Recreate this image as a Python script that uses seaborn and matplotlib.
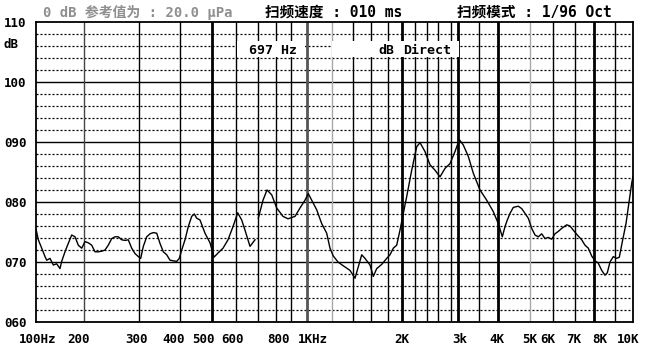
import numpy as np
import pandas as pd
import matplotlib
matplotlib.use("Agg")
import matplotlib.pyplot as plt
import seaborn as sns
from matplotlib.patches import Rectangle
from matplotlib.transforms import ScaledTranslation

# ---------------- data ----------------
# axis of the analyser: frequency anchors and their relative position on the scale
AXIS_FREQS = [100, 200, 300, 400, 500, 600, 700, 800, 900, 1000,
              2000, 3000, 4000, 5000, 6000, 7000, 8000, 10000]
AXIS_POS = [0, 48, 103, 144, 176, 200, 222, 240, 255, 271,
            366, 422, 462, 494, 517, 539, 558, 597]

# response curve, part before the cursor (697 Hz)
seg1_hz = [100, 103.4, 108.6, 113.9, 116.7, 122.4, 128.4, 134.8, 141.4, 144.9,
           152.0, 159.4, 167.5, 175.6, 184.2, 193.5, 201.5, 206.4, 211.7, 216.9,
           222.2, 227.9, 233.5, 239.2, 245.3, 251.3, 257.5, 264.1, 270.6, 277.2,
           284.3, 291.3, 298.5, 303.6, 309.2, 316.7, 324.1, 331.7, 339.7, 347.6,
           355.8, 364.4, 372.9, 381.6, 390.8, 398.0, 404.8, 414.2, 423.8, 434.0,
           442.0, 449.4, 459.9, 476.2, 493.1, 507.7, 523.3, 543.6, 564.6, 586.5,
           607.2, 624.5, 639.1, 661.9, 685.4]
seg1_db = [75.5, 73.7, 72.3, 70.9, 70.3, 70.6, 69.5, 69.7, 68.9, 70.1,
           71.7, 73.1, 74.5, 74.2, 72.8, 72.3, 73.4, 73.2, 72.8, 71.7,
           71.7, 71.8, 72.0, 72.8, 73.9, 74.2, 74.2, 73.7, 73.6, 73.7,
           72.3, 71.4, 70.9, 70.6, 72.6, 74.2, 74.7, 74.9, 74.8, 73.1,
           71.7, 71.2, 70.3, 70.2, 70.1, 70.6, 72.0, 73.7, 75.9, 77.6,
           78.0, 77.3, 77.0, 74.8, 73.2, 70.8, 71.5, 72.3, 73.7, 75.9,
           78.2, 77.0, 75.3, 72.6, 73.7]

# response curve, part after the cursor
seg2_hz = [701.6, 726.5, 748.4, 774.9, 804.4, 845.2, 879.0, 924.0, 955.0, 986.9,
           1009.5, 1034.9, 1073.3, 1113.2, 1154.5, 1182.7, 1211.5, 1253.8, 1300.4, 1368.5,
           1419.4, 1454.0, 1490.5, 1526.8, 1583.6, 1622.1, 1662.9, 1724.6, 1788.6, 1832.2,
           1876.8, 1924.0, 1971.0, 2010.2, 2069.2, 2145.5, 2224.6, 2278.4, 2362.4, 2449.5,
           2539.8, 2633.4, 2730.6, 2831.2, 2935.4, 3028.2, 3116.6, 3230.7, 3348.9, 3514.3,
           3687.9, 3867.0, 4008.4, 4121.8, 4200.1, 4268.0, 4349.2, 4450.4, 4608.3, 4718.8,
           4828.7, 4941.1, 5067.8, 5202.1, 5340.1, 5485.9, 5631.4, 5780.6, 5938.4, 6084.7,
           6227.0, 6377.2, 6604.4, 6758.9, 6917.3, 7114.1, 7337.6, 7509.6, 7686.0, 7871.6,
           8045.9, 8199.2, 8360.4, 8519.7, 8632.7, 8767.0, 8934.1, 9109.6, 9246.2, 9427.7,
           9607.3, 9790.4, 9925.6, 10000]
seg2_db = [77.3, 80.3, 82.0, 81.2, 79.0, 77.6, 77.2, 77.6, 79.0, 80.3,
           81.4, 80.3, 78.7, 76.4, 74.8, 72.3, 71.0, 70.0, 69.4, 68.6,
           67.3, 69.2, 71.2, 70.6, 69.5, 67.6, 68.9, 69.6, 70.6, 71.2,
           72.3, 72.8, 75.3, 77.6, 80.9, 85.3, 89.2, 89.9, 88.4, 86.2,
           85.3, 84.2, 85.6, 86.4, 88.4, 90.4, 89.5, 87.6, 84.8, 82.0,
           80.3, 78.4, 76.4, 74.2, 75.9, 77.0, 78.1, 79.1, 79.3, 78.9,
           78.1, 77.3, 75.6, 74.5, 74.2, 74.7, 73.9, 74.1, 73.8, 74.7,
           75.1, 75.6, 76.2, 76.0, 75.3, 74.5, 73.7, 72.8, 72.3, 71.0,
           70.2, 69.8, 68.6, 67.8, 68.2, 70.0, 70.9, 70.6, 70.8, 73.7,
           76.4, 80.3, 83.1, 84.3]

# grid lines
grid_thin = [300, 400, 600, 700, 800, 900, 1400, 1600, 1800, 2200, 2400, 2600,
             2850, 3500, 6000, 7000, 9000]
grid_thick = [500, 2000, 3000, 4000, 8000]
grid_gray = [1200, 5000]
grid_dark = [200]
grid_dark_thick = [1000]
db_major = [70, 80, 90, 100]
db_minor = [62, 64, 66, 68, 72, 74, 76, 78, 82, 84, 86, 88,
            92, 94, 96, 98, 102, 104, 106, 108]

xtick_freqs = [100, 200, 300, 400, 500, 600, 800, 1000, 2000, 3000,
               4000, 5000, 6000, 7000, 8000, 10000]
xtick_labels = ["100Hz", "200", "300", "400", "500", "600", "800", "1KHz", "2K",
                "3k", "4K", "5K", "6K", "7K", "8K", "10K"]
xtick_shift_px = [2, -5, -3, -6, -9, -3, 2, 6, 0, 2, -1, 0, -5, -1, 6, -5]
ytick_vals = [60, 70, 80, 90, 100, 110]
ytick_labels = ["060", "070", "080", "090", "100", "110"]

# ---------------- scale ----------------
LOGF = np.log10(AXIS_FREQS)
POS = np.asarray(AXIS_POS, float)


def fwd(f):
    f = np.asarray(f, float)
    with np.errstate(divide="ignore", invalid="ignore"):
        lf = np.log10(np.where(f > 0, f, np.nan))
    return np.interp(lf, LOGF, POS)


def inv(p):
    return 10 ** np.interp(np.asarray(p, float), POS, LOGF)


W, H = 646, 352
fig = plt.figure(figsize=(W / 100, H / 100), dpi=100)
ax = fig.add_axes([36 / W, 1 - 322 / H, 597 / W, 300 / H])
ax.set_xscale("function", functions=(fwd, inv))
ax.set_xlim(100, 10000)
ax.set_ylim(60, 110)

for d in db_minor:
    ax.axhline(d, color="black", lw=0.9, ls=(0, (1.6, 1.6)), zorder=1)
for d in db_major:
    ax.axhline(d, color="black", lw=1.0, zorder=1.5)
for f in grid_thin:
    ax.axvline(f, color="black", lw=1.0, zorder=1.6)
for f in grid_thick:
    ax.axvline(f, color="black", lw=2.0, zorder=1.6)
for f in grid_gray:
    ax.axvline(f, color="#a8a8a8", lw=1.0, zorder=1.6)
for f in grid_dark:
    ax.axvline(f, color="#444444", lw=1.0, zorder=1.6)
for f in grid_dark_thick:
    ax.axvline(f, color="#555555", lw=2.0, zorder=1.6)

df = pd.concat([
    pd.DataFrame({"hz": seg1_hz, "db": seg1_db, "seg": 1}),
    pd.DataFrame({"hz": seg2_hz, "db": seg2_db, "seg": 2}),
])
sns.lineplot(data=df, x="hz", y="db", units="seg", estimator=None, sort=False,
             color="black", lw=1.0, ax=ax, zorder=3, legend=False)

for s in ax.spines.values():
    s.set_color("black")
    s.set_linewidth(1.3)

ax.set_xlabel("")
ax.set_ylabel("")
mono = {"family": "DejaVu Sans Mono", "weight": "bold", "size": 9}
ax.set_xticks(xtick_freqs)
ax.set_xticks([], minor=True)
ax.set_xticklabels(xtick_labels, fontdict=mono)
ax.set_yticks(ytick_vals)
ax.set_yticklabels(ytick_labels, fontdict=mono, ha="left")
ax.tick_params(axis="x", length=0, pad=8)
ax.tick_params(axis="y", length=0, pad=23)
for lab, sh in zip(ax.get_xticklabels(), xtick_shift_px):
    lab.set_transform(lab.get_transform() + ScaledTranslation(sh / 100, 0, fig.dpi_scale_trans))


def fx(px):
    return px / W


def fy(py):
    return 1 - py / H


fig.text(fx(4), fy(44), "dB", fontdict=mono, va="center", ha="left")

mixed = ["DejaVu Sans Mono", "Noto Sans CJK SC"]
fig.text(fx(43), fy(12), "0 dB 参考值为 : 20.0 μPa", family=mixed, weight="bold",
         size=10, color="#8f8f8f", va="center", ha="left")
fig.text(fx(265), fy(12), "扫频速度 : 010 ms", family=mixed, weight="bold",
         size=10.5, color="black", va="center", ha="left")
fig.text(fx(457), fy(12), "扫频模式 : 1/96 Oct", family=mixed, weight="bold",
         size=10.5, color="black", va="center", ha="left")

# readout boxes
for x0, x1 in [(237, 305), (332, 459)]:
    fig.add_artist(Rectangle((fx(x0), fy(57)), (x1 - x0) / W, 16 / H,
                             transform=fig.transFigure, facecolor="white",
                             edgecolor="none", zorder=5))
ro = dict(family="DejaVu Sans Mono", weight="bold", size=9.5, color="black",
          va="center", ha="left", zorder=6)
fig.text(fx(249), fy(50), "697 Hz", **ro)
fig.text(fx(378), fy(50), "dB", **ro)
fig.text(fx(403), fy(50), "Direct", **ro)

fig.savefig("out.png", dpi=100, facecolor="white")
